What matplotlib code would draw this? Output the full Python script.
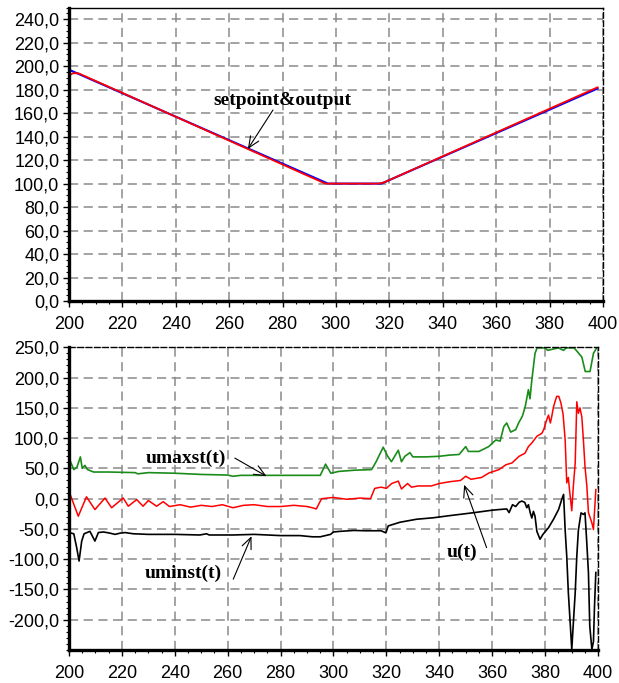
import matplotlib
matplotlib.use("Agg")
import matplotlib.pyplot as plt
from matplotlib.ticker import MultipleLocator, FuncFormatter

# top chart: setpoint (blue) and output (red)
sp_t = [200, 297, 317, 398]
sp_v = [197, 100, 100, 181]
out_t = [200, 201.5, 203.5, 205.5, 296, 316, 318, 397, 398]
out_v = [192, 194, 194, 192, 100, 100, 101, 181, 182]

# bottom chart: umaxst(t) green
umax_t = [200, 201.8, 203, 204.3, 205, 206, 207, 209.3, 215, 225, 226, 230, 240, 250, 260, 262, 265, 270,
          280, 290, 295, 297, 299, 302, 308, 314.4, 316, 318.8, 320.5, 321.9, 324.5, 325.7, 327, 328.9, 330,
          335, 340, 344, 347.5, 350, 351, 355, 358.7, 361.4, 363, 364.4, 365.5, 367, 368.9, 370, 371.4, 372.5,
          373.7, 374.3, 375, 375.6, 376.2, 377, 380, 381, 385, 387, 388, 391, 393.9, 395.2, 397, 398.3, 399.5]
umax_v = [67, 48, 52, 69, 50, 55, 48, 44, 44, 43, 41, 43, 42, 40, 39, 37, 38.5, 38.5,
          38.5, 38.5, 38.5, 57, 42, 45, 47, 48, 60, 85, 70, 61, 80, 61, 70, 76, 69,
          69, 70, 72, 73, 86, 78, 78, 86, 97, 95, 119, 125, 110, 114, 125, 136, 152,
          180, 165, 196, 218, 240, 249, 249, 245, 249, 245, 249, 249, 234, 210, 210, 240, 249]

# u(t) red
u_t = [200, 203.5, 206.6, 209.8, 213.6, 216.1, 220.5, 222.4, 225.6, 228, 230, 233.1, 235.6, 238, 242, 246,
       250, 254, 258, 262, 266, 270, 275, 280, 285, 290, 292, 293.5, 295.5, 300, 305, 310, 314, 315.6, 318,
       320, 322, 324.5, 325.7, 328, 329.5, 332, 337, 340, 344, 348, 350, 352, 356, 358.8, 362.6, 365.2,
       367.5, 370.2, 372.4, 373.7, 375, 376.9, 378.8, 379.5, 380.6, 381.3, 382, 382.5, 383.2, 384.4, 385.2,
       386, 386.8, 387.6, 388.2, 388.8, 389.3, 390.1, 390.7, 391.4, 392, 392.6, 393.2, 393.9, 394.5, 395.1,
       395.8, 396.4, 397.7, 398.3, 399.2]
u_v = [12, -29, 3, -18, 1, -15, 1, -12.5, -1.5, -12.5, -3, -12.5, -5, -13, -10, -14,
       -11, -13, -10, -15, -11, -10, -13, -13, -11, -13, -15, -17, 0, 2, -1, 1, 0, 17, 19,
       17, 25, 29, 16, 25, 19, 21, 21, 25, 28, 30, 37, 32, 35, 42.5, 48, 56,
       59, 70, 75, 86, 92, 103, 108, 114, 130, 138, 125, 135, 152, 169, 169,
       158, 140, 97, 26, 35, 12, -20, 21, 59, 160, 141, 150, 135, 97, 53,
       21, -23, -40, -51, 15]

# uminst(t) black
umin_t = [200, 201.8, 202.9, 203.8, 204.8, 205.7, 207.9, 209.8, 211.1, 213, 215.5, 217.4, 219.3, 221.2, 224.3,
          230, 240, 249.5, 252, 253, 262, 270, 280, 287.3, 292, 295, 298.9, 300, 302.5, 307.7, 312, 318,
          319.8, 320.7, 325.1, 331.4, 337.7, 344, 352.6, 360.1, 362.6, 365.5, 366.4, 367.7, 368.9, 370.2,
          371.2, 372.3, 373.1, 373.7, 374.4, 375, 375.6, 376.2, 376.9, 378.1, 379.2, 381.3, 383.2, 385.1,
          386.3, 387, 387.6, 388.2, 388.8, 389.5, 390.1, 390.7, 391.4, 392, 392.6, 393.6, 394.5, 395.1,
          395.7, 396.4, 396.9, 397.7, 398.3, 398.7, 399.2]
umin_v = [-56, -58, -81, -103, -70, -58, -54, -70, -56, -55, -57, -59, -57, -56, -58,
          -59, -59, -60, -58, -60, -60, -59, -61, -61, -63, -63, -59, -55, -54, -52.5, -53, -53,
          -56.5, -45, -39, -34, -31.6, -28, -23.4, -19, -18, -17, -23, -10, -13, -6,
          -4, -6, -15, -10, -23.5, -32, -21, -29, -54, -67, -59, -48, -34, -18,
          -1.5, 7, -52, -95, -155, -205, -249, -205, -155, -95, -52, -23.5, -26, -23.5,
          -67, -122, -210, -249, -236, -177, -122]

x_ticks = list(range(200, 401, 20))

plt.rcParams['font.family'] = ['Liberation Sans', 'DejaVu Sans']
fig = plt.figure(figsize=(6.19, 6.83), dpi=100)
ax1 = fig.add_axes([0.1115, 0.5593, 0.8625, 0.4297])
ax2 = fig.add_axes([0.1115, 0.0483, 0.8545, 0.4432])

comma = FuncFormatter(lambda v, p: ("%.1f" % v).replace(".", ","))

def style(ax, ylo, yhi, ystep, yminor, top_solid):
    ax.set_xlim(200, 400)
    ax.set_ylim(ylo, yhi)
    ax.set_xticks(x_ticks)
    ax.xaxis.set_minor_locator(MultipleLocator(5))
    ax.yaxis.set_major_locator(MultipleLocator(ystep))
    ax.yaxis.set_minor_locator(MultipleLocator(yminor))
    ax.yaxis.set_major_formatter(comma)
    ax.grid(True, which='major', color='#8a8a8a', linestyle=(0, (6, 3.6)), linewidth=1.1)
    ax.tick_params(which='major', direction='out', length=4, width=1, labelsize=13, pad=3)
    ax.tick_params(axis='x', which='major', pad=7)
    ax.tick_params(which='minor', direction='out', length=2.5, width=0.8)
    for s in ['left', 'bottom']:
        ax.spines[s].set_linewidth(2.4)
    ax.spines['right'].set_linestyle((0, (4, 2)))
    ax.spines['right'].set_linewidth(1)
    if top_solid:
        ax.spines['top'].set_linewidth(1)
    else:
        ax.spines['top'].set_linestyle((0, (4, 2)))
        ax.spines['top'].set_linewidth(1)

style(ax1, 0, 250, 20, 5, True)
style(ax2, -250, 250, 50, 10, False)
ax1.set_yticks(list(range(0, 241, 20)))
ax2.set_yticks(list(range(-200, 251, 50)))

ax1.plot(sp_t, sp_v, color='blue', lw=1.5)
ax1.plot(out_t, out_v, color='red', lw=1.3)

ax2.plot(umax_t, umax_v, color='#1a8c1a', lw=1.2)
ax2.plot(u_t, u_v, color='red', lw=1.1)
ax2.plot(umin_t, umin_v, color='black', lw=1.2)

ann = dict(fontsize=14, fontweight='bold', family=['Liberation Serif', 'DejaVu Serif'],
           ha='center', va='center')
arrow = dict(arrowstyle='->, head_length=0.8, head_width=0.35', color='black', lw=0.8,
             shrinkA=0, shrinkB=0)
ax1.text(280, 171, 'setpoint&output', **ann)
ax1.annotate('', xy=(267, 129.5), xytext=(276.4, 162.7), arrowprops=arrow)

ax2.text(244, 67, 'umaxst(t)', **ann)
ax2.annotate('', xy=(274.7, 37), xytext=(262.7, 67), arrowprops=arrow)
ax2.text(243, -124, 'uminst(t)', **ann)
ax2.annotate('', xy=(269, -62), xytext=(262.1, -133), arrowprops=arrow)
ax2.text(348.4, -89, 'u(t)', **ann)
ax2.annotate('', xy=(349.4, 23), xytext=(357.9, -81), arrowprops=arrow)

fig.savefig('out.png', dpi=100)
